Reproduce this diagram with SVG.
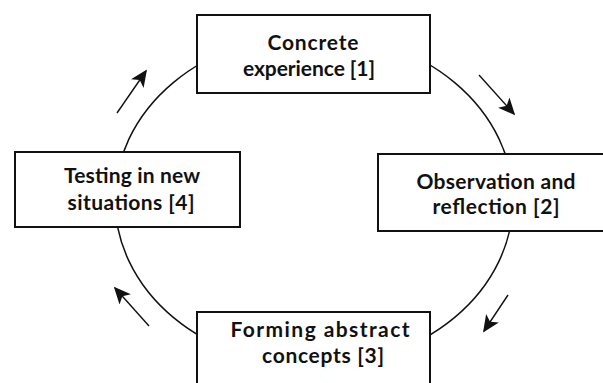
<svg xmlns="http://www.w3.org/2000/svg" width="603" height="383" viewBox="0 0 603 383">
<style>
.box{fill:#fff;stroke:#111;stroke-width:2}
.lbl{font-family:Lato,"Liberation Sans",sans-serif;font-weight:bold;font-size:21px;fill:#111;text-anchor:middle}
.cyc{fill:none;stroke:#111;stroke-width:1.5}
.arr{fill:none;stroke:#111;stroke-width:1.4;marker-end:url(#ah)}
</style>
<defs>
<marker id="ah" viewBox="0 0 10 10" refX="9" refY="5" markerWidth="17" markerHeight="17" markerUnits="userSpaceOnUse" orient="auto">
<path d="M0,0.5 L10,5 L0,9.5 L2.5,5 Z" fill="#111"/>
</marker>
</defs>
<g id="connectors">
<ellipse class="cyc" cx="314" cy="200" rx="199" ry="166"/>
<line class="arr" x1="117" y1="113" x2="146" y2="71"/>
<line class="arr" x1="479" y1="75" x2="514" y2="114"/>
<line class="arr" x1="508" y1="295" x2="484" y2="331"/>
<line class="arr" x1="149" y1="326" x2="115" y2="288"/>
</g>
<g id="node1">
<rect class="box" x="197" y="15" width="233" height="78"/>
<text class="lbl" x="313" y="50" textLength="91" lengthAdjust="spacing">Concrete</text>
<text class="lbl" x="309" y="76" textLength="132" lengthAdjust="spacing">experience [1]</text>
</g>
<g id="node2">
<rect class="box" x="378" y="154" width="230" height="77"/>
<text class="lbl" x="496" y="189" textLength="159" lengthAdjust="spacing">Observation and</text>
<text class="lbl" x="496" y="214" textLength="127" lengthAdjust="spacing">reflection [2]</text>
</g>
<g id="node3">
<rect class="box" x="197" y="312" width="233" height="80"/>
<text class="lbl" x="320" y="337" textLength="179" lengthAdjust="spacing">Forming abstract</text>
<text class="lbl" x="323" y="363" textLength="122" lengthAdjust="spacing">concepts [3]</text>
</g>
<g id="node4">
<rect class="box" x="15" y="152" width="225" height="75"/>
<text class="lbl" x="132" y="183" textLength="136" lengthAdjust="spacing">Testing in new</text>
<text class="lbl" x="131" y="210" textLength="127" lengthAdjust="spacing">situations [4]</text>
</g>
</svg>
